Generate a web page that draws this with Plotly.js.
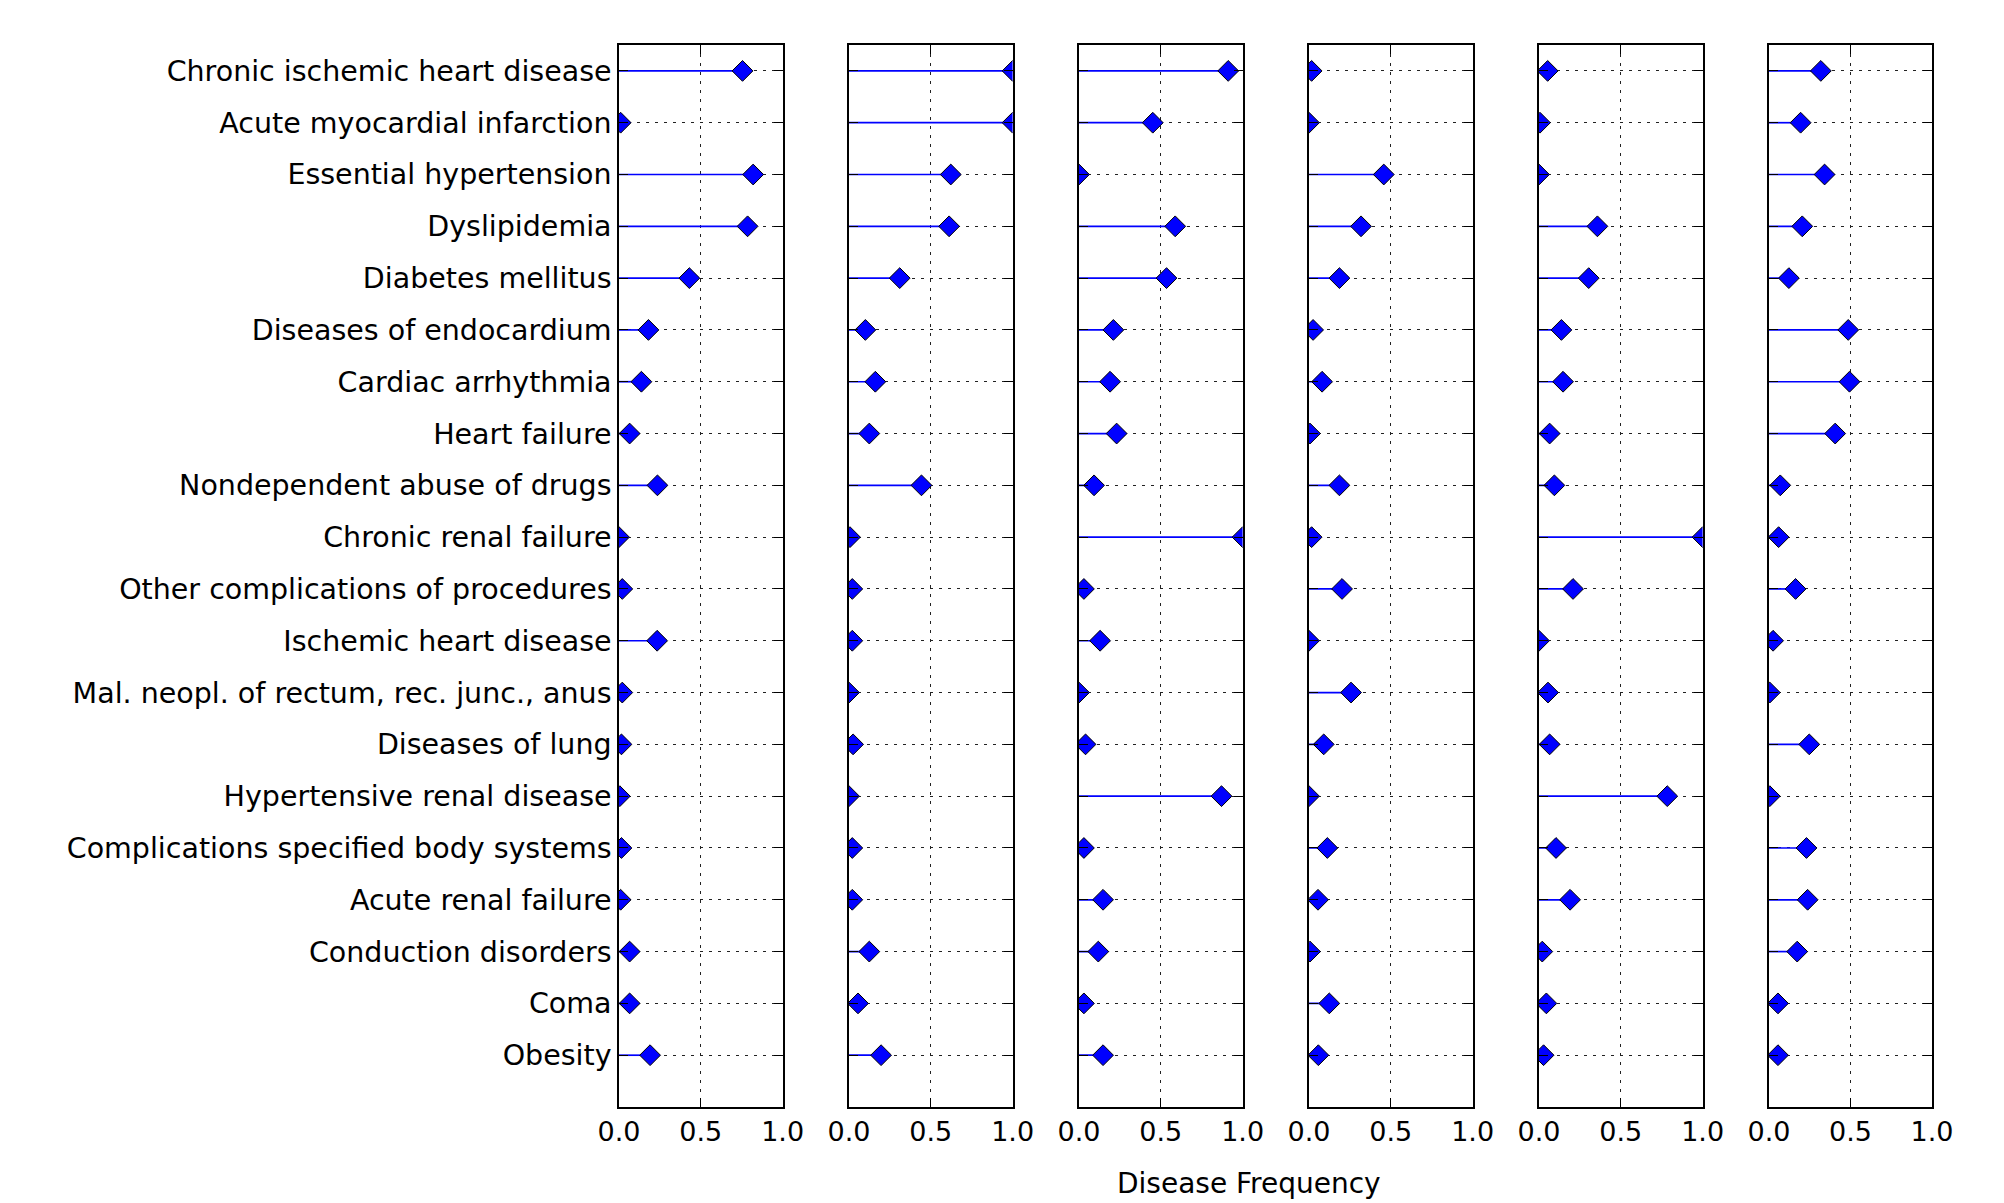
<!DOCTYPE html>
<html>
<head>
<meta charset="utf-8">
<script src="https://cdn.plot.ly/plotly-3.0.1.min.js"></script>
<style>
  html, body { margin: 0; padding: 0; background: #ffffff; }
  #chart { width: 2004px; height: 1203px; }
</style>
</head>
<body>
<div id="chart"></div>
<script>
// ---- data ----
const diseases = [
  "Chronic ischemic heart disease",
  "Acute myocardial infarction",
  "Essential hypertension",
  "Dyslipidemia",
  "Diabetes mellitus",
  "Diseases of endocardium",
  "Cardiac arrhythmia",
  "Heart failure",
  "Nondependent abuse of drugs",
  "Chronic renal failure",
  "Other complications of procedures",
  "Ischemic heart disease",
  "Mal. neopl. of rectum, rec. junc., anus",
  "Diseases of lung",
  "Hypertensive renal disease",
  "Complications specified body systems",
  "Acute renal failure",
  "Conduction disorders",
  "Coma",
  "Obesity"
];

const cluster1 = [0.755, 0.01, 0.82, 0.786, 0.43, 0.18, 0.137, 0.065, 0.235, 0.0, 0.02, 0.233, 0.02, 0.015, 0.005, 0.015, 0.01, 0.065, 0.065, 0.19];
const cluster2 = [1.0, 1.0, 0.622, 0.612, 0.31, 0.10, 0.161, 0.124, 0.443, 0.006, 0.02, 0.02, 0.0, 0.025, 0.0, 0.02, 0.02, 0.124, 0.055, 0.196];
const cluster3 = [0.912, 0.451, 0.0, 0.588, 0.535, 0.21, 0.19, 0.23, 0.092, 1.0, 0.03, 0.129, 0.0, 0.04, 0.871, 0.03, 0.147, 0.118, 0.03, 0.147];
const cluster4 = [0.016, 0.0, 0.457, 0.318, 0.186, 0.025, 0.08, 0.006, 0.186, 0.016, 0.202, 0.0, 0.257, 0.09, 0.0, 0.112, 0.055, 0.006, 0.124, 0.057];
const cluster5 = [0.053, 0.006, 0.0, 0.357, 0.304, 0.137, 0.147, 0.065, 0.094, 1.0, 0.208, 0.0, 0.055, 0.065, 0.784, 0.104, 0.19, 0.02, 0.045, 0.028];
const cluster6 = [0.318, 0.194, 0.341, 0.204, 0.122, 0.486, 0.494, 0.406, 0.069, 0.059, 0.163, 0.025, 0.005, 0.247, 0.005, 0.23, 0.237, 0.173, 0.055, 0.055];

const xTickVals = [0, 0.5, 1];
const xTickText = ["0.0", "0.5", "1.0"];
const xTitle = "Disease Frequency";

// ---- build ----
const clusters = [cluster1, cluster2, cluster3, cluster4, cluster5, cluster6];
const rowIdx = diseases.map((d, i) => i);
const FONT = "DejaVu Sans, Liberation Sans, sans-serif";

const W = 2004, H = 1203;
const mL = 619, mR = 72, mT = 45, mB = 96;
const plotW = W - mL - mR;
const plotH = H - mT - mB;
const panelStep = 230, panelW = 163.6;

const traces = [];
const layout = {
  width: W, height: H,
  margin: {l: mL, r: mR, t: mT, b: mB, pad: 0},
  paper_bgcolor: "#ffffff",
  plot_bgcolor: "#ffffff",
  showlegend: false,
  font: {family: FONT, color: "#000000", size: 27},
  annotations: [{
    text: xTitle,
    xref: "paper", yref: "paper",
    x: (1249 - mL) / plotW, y: -76 / plotH,
    xanchor: "center", yanchor: "middle",
    showarrow: false,
    font: {family: FONT, size: 28, color: "#000000"}
  }]
};

clusters.forEach((vals, k) => {
  const n = k + 1;
  const xa = n === 1 ? "x" : "x" + n;
  const ya = n === 1 ? "y" : "y" + n;
  // stems
  const sx = [], sy = [];
  vals.forEach((v, i) => { sx.push(0, v, null); sy.push(i, i, null); });
  traces.push({
    type: "scatter", mode: "lines", x: sx, y: sy, xaxis: xa, yaxis: ya,
    line: {color: "#0000ff", width: 1.7}, hoverinfo: "skip", cliponaxis: true
  });
  traces.push({
    type: "scatter", mode: "markers", x: vals, y: rowIdx, xaxis: xa, yaxis: ya,
    marker: {symbol: "diamond", size: 16, color: "#0000ff", line: {color: "#000000", width: 1}},
    cliponaxis: true
  });
  const d0 = (panelStep * k) / plotW;
  const d1 = Math.min(1, (panelStep * k + panelW) / plotW);
  layout["xaxis" + (n === 1 ? "" : n)] = {
    domain: [d0, d1], anchor: ya, range: [0, 1],
    tickmode: "array", tickvals: xTickVals, ticktext: xTickText,
    ticks: "inside", ticklen: 9, tickwidth: 1, tickcolor: "#000000",
    showline: true, linecolor: "#000000", linewidth: 1.5, mirror: "ticks",
    showgrid: true, gridcolor: "#222222", gridwidth: 1, griddash: "3px,6px",
    zeroline: false, ticklabelstandoff: 0,
    tickfont: {family: FONT, size: 27, color: "#000000"}
  };
  layout["yaxis" + (n === 1 ? "" : n)] = {
    domain: [0, 1], anchor: xa, range: [20, -0.5],
    tickmode: "array", tickvals: rowIdx, ticktext: diseases,
    showticklabels: n === 1,
    ticks: "inside", ticklen: 9, tickwidth: 1, tickcolor: "#000000",
    showline: true, linecolor: "#000000", linewidth: 1.5, mirror: "ticks",
    showgrid: true, gridcolor: "#222222", gridwidth: 1, griddash: "3px,6px",
    zeroline: false, ticklabelstandoff: 0,
    tickfont: {family: FONT, size: 28.5, color: "#000000"}
  };
});

Plotly.newPlot("chart", traces, layout, {displayModeBar: false, responsive: false});
</script>
</body>
</html>
